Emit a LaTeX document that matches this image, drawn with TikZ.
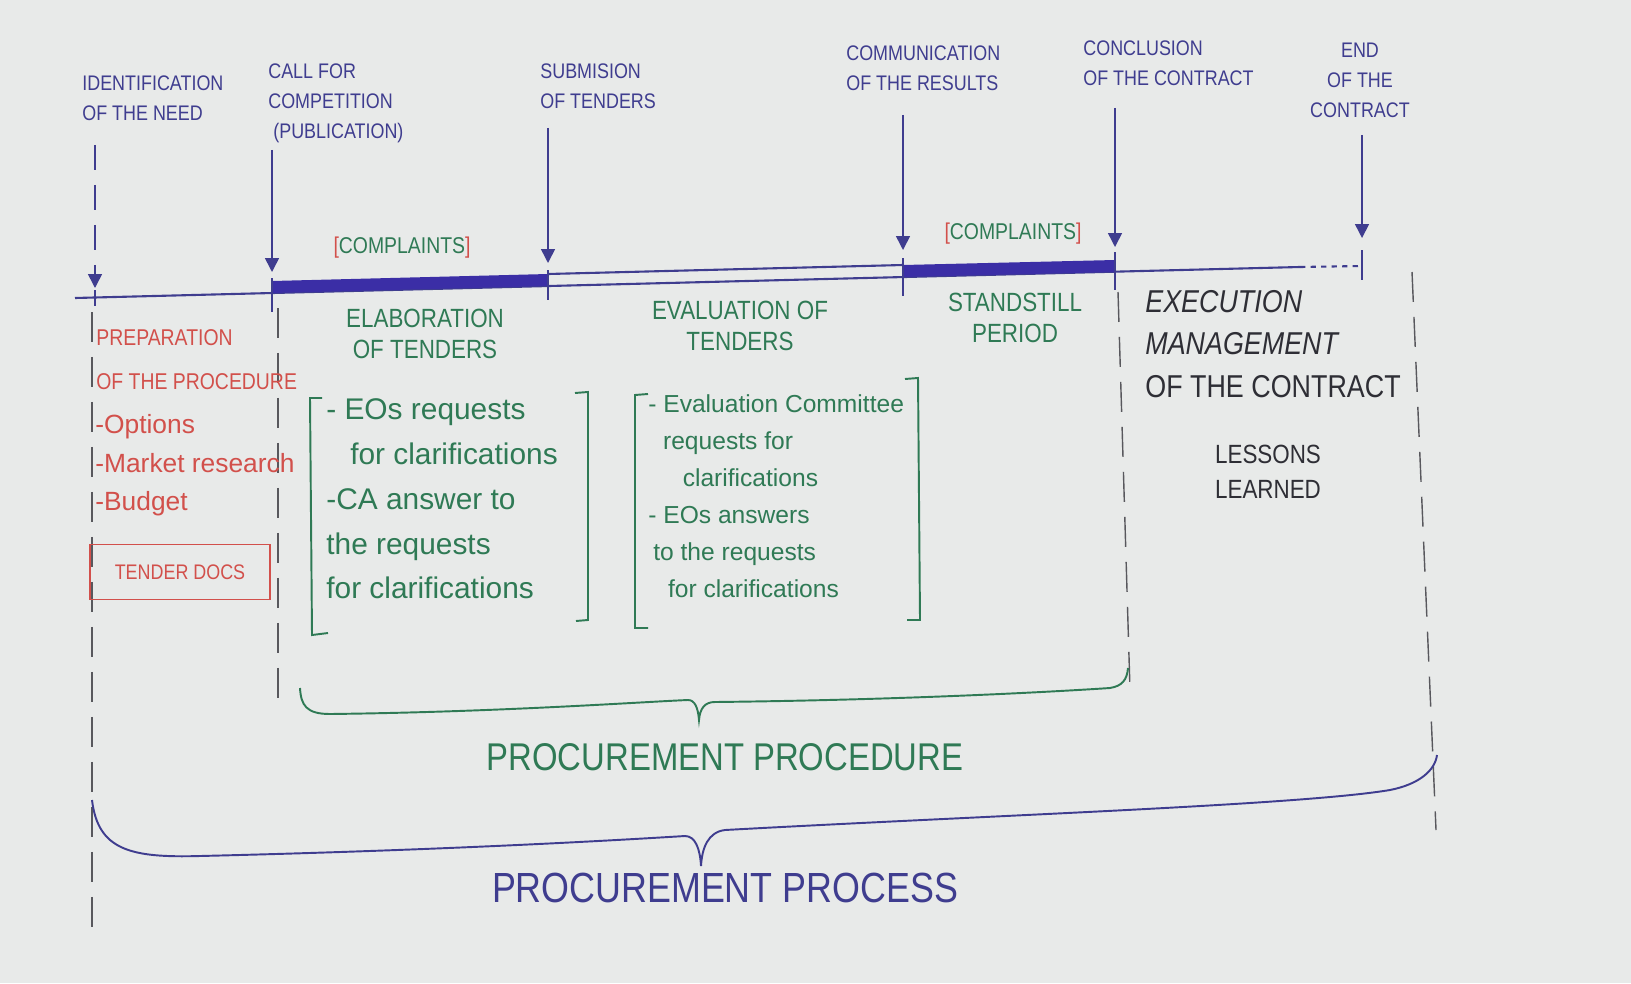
\documentclass[tikz,border=0pt]{standalone}
\usepackage{fontspec}
\setmainfont{Liberation Sans}
\newfontfamily\penfont{Liberation Sans}[FakeStretch=0.85]
\usetikzlibrary{arrows.meta}

\definecolor{board}{HTML}{E8EAE9}
\definecolor{bluepen}{HTML}{3F3D8F}
\definecolor{barblue}{HTML}{3B2EA6}
\definecolor{redpen}{HTML}{D2504B}
\definecolor{greenpen}{HTML}{2F7A55}
\definecolor{blackpen}{HTML}{2E2E35}

\tikzset{
  lbl/.style={text=bluepen,font=\penfont\fontsize{12}{17}\selectfont,align=left,inner sep=0pt},
  pointer/.style={draw=bluepen,line width=0.9pt,-{Triangle[width=0.28cm,length=0.28cm]}},
  tick/.style={draw=bluepen,line width=1.2pt},
  bar/.style={draw=bluepen,line width=1.2pt},
  guide/.style={draw=blackpen!80,line width=0.8pt,dash pattern=on 0.6cm off 0.3cm},
  redtxt/.style={text=redpen,align=left,inner sep=0pt},
  redbox/.style={draw=redpen,line width=1pt,text=redpen,font=\penfont\fontsize{12}{14}\selectfont,minimum width=3.6cm,minimum height=1.1cm},
  grnhead/.style={text=greenpen,font=\penfont\fontsize{15}{18}\selectfont,align=center,inner sep=0pt},
  grnlist/.style={text=greenpen,align=left,inner sep=0pt},
  grnbracket/.style={draw=greenpen,line width=1.1pt},
  complaint/.style={text=greenpen,font=\penfont\fontsize{13}{15}\selectfont,inner sep=0pt},
  blk/.style={text=blackpen,font=\penfont\fontsize{18}{24}\selectfont,align=left,inner sep=0pt},
  brace/.style={line width=1.1pt}
}

\begin{document}
\begin{tikzpicture}[x=0.02cm,y=-0.02cm]
\fill[board] (0,0) rectangle (1631,983);
\useasboundingbox (0,0) rectangle (1631,983);

% points of the time line
\coordinate (start) at (75,298);
\coordinate (need) at (95,297);
\coordinate (call) at (272,293);
\coordinate (sub) at (548,286);
\coordinate (res) at (903,277);
\coordinate (conc) at (1115,272);
\coordinate (fade) at (1300,267);
\coordinate (fin) at (1362,266);

% time line
\draw[bar] (start) -- (fade);
\draw[bar,dashed] (fade) -- (fin);
\fill[barblue] (call) -- (sub) -- ([yshift=0.24cm]sub) -- ([yshift=0.24cm]call) -- cycle;
\draw[bar] ([yshift=0.24cm]sub) -- ([yshift=0.24cm]res);
\fill[barblue] (res) -- (conc) -- ([yshift=0.24cm]conc) -- ([yshift=0.24cm]res) -- cycle;
\foreach \p/\a/\b in {need/0.14cm/0.18cm, call/0.3cm/0.38cm, sub/0.32cm/0.28cm,
  res/0.38cm/0.38cm, conc/0.4cm/0.36cm, fin/0.32cm/0.28cm}
  \draw[tick] ([yshift=\a]\p) -- ([yshift=-\b]\p);

% events
\node[lbl,anchor=west] (ident) at (82,98) {IDENTIFICATION\\OF THE NEED};
\node[lbl,anchor=west] (callfor) at (268,103) {CALL FOR\\COMPETITION\\\ (PUBLICATION)};
\node[lbl,anchor=west] (subm) at (540,86) {SUBMISION\\OF TENDERS};
\node[lbl,anchor=west] (comm) at (846,68) {COMMUNICATION\\OF THE RESULTS};
\node[lbl,anchor=west] (concl) at (1083,63) {CONCLUSION\\OF THE CONTRACT};
\node[lbl,align=center] (endc) at (1360,80) {END\\OF THE\\CONTRACT};

\coordinate (needtop) at (95,145);
\coordinate (calltop) at (272,150);
\coordinate (subtop) at (548,128);
\coordinate (restop) at (903,115);
\coordinate (conctop) at (1115,108);
\coordinate (fintop) at (1362,135);
\draw[pointer,dash pattern=on 0.5cm off 0.3cm] (needtop) -- ([yshift=0.18cm]need);
\draw[pointer] (calltop) -- ([yshift=0.42cm]call);
\draw[pointer] (subtop) -- ([yshift=0.46cm]sub);
\draw[pointer] (restop) -- ([yshift=0.54cm]res);
\draw[pointer] (conctop) -- ([yshift=0.5cm]conc);
\draw[pointer] (fintop) -- ([yshift=0.56cm]fin);

\node[complaint] (cmp1) at (402,248) {\textcolor{redpen}{[}COMPLAINTS\textcolor{redpen}{]}};
\node[complaint] (cmp2) at (1013,234) {\textcolor{redpen}{[}COMPLAINTS\textcolor{redpen}{]}};

% phase borders
\draw[guide] (92,312) -- (92,935);
\draw[guide] (278,308) -- (278,700);
\draw[guide] (1118,292) -- (1130,690);
\draw[guide] (1412,272) -- (1436,830);

% preparation
\node[redtxt,anchor=west,font=\penfont\fontsize{13}{25}\selectfont] (prep) at (96,360) {PREPARATION\\OF THE PROCEDURE};
\node[redtxt,anchor=north west,font=\fontsize{15}{22}\selectfont] (opts) at (95,414) {-Options\\-Market research\\-Budget};
\node[redbox] (docs) at (180,572) {TENDER DOCS};

% procedure phases
\node[grnhead] (elab) at (425,334) {ELABORATION\\OF TENDERS};
\node[grnhead] (eval) at (740,326) {EVALUATION OF\\TENDERS};
\node[grnhead] (still) at (1015,318) {STANDSTILL\\PERIOD};

\node[grnlist,anchor=west,font=\fontsize{17}{25.5}\selectfont] (elabl) at (326,499)
  {- EOs requests\\\hspace{0.8em}for clarifications\\-CA answer to\\the requests\\for clarifications};
\draw[grnbracket] (322,398) -- (310,398) -- (312,635) -- (328,633);
\draw[grnbracket] (575,393) -- (588,392) -- (588,620) -- (576,621);

\node[grnlist,anchor=west,font=\fontsize{14}{21}\selectfont] (evall) at (648,496)
  {- Evaluation Committee\\\hspace{0.6em}requests for\\\hspace{1.4em}clarifications\\- EOs answers\\\hspace{0.2em}to the requests\\\hspace{0.8em}for clarifications};
\draw[grnbracket] (648,394) -- (635,395) -- (635,628) -- (648,628);
\draw[grnbracket] (905,379) -- (918,378) -- (920,620) -- (907,620);

% contract
\node[blk,anchor=west] (exec) at (1145,344) {\itshape EXECUTION\\\itshape MANAGEMENT\\OF THE CONTRACT};
\node[blk,align=center,font=\penfont\fontsize{15}{20}\selectfont] (lessons) at (1268,472) {LESSONS\\LEARNED};

% braces
\draw[brace,greenpen] (300,688) .. controls (301,705) and (306,714) .. (330,714)
  .. controls (500,712) and (640,702) .. (688,700) .. controls (695,700) and (698,708) .. (699,720)
  .. controls (700,708) and (705,702) .. (715,702) .. controls (900,700) and (1050,692) .. (1110,688)
  .. controls (1122,686) and (1127,680) .. (1128,668);
\node[grnhead,font=\penfont\fontsize{22}{26}\selectfont] (procedure) at (725,757) {PROCUREMENT PROCEDURE};

\draw[brace,bluepen] (92,800) .. controls (98,850) and (130,858) .. (200,856)
  .. controls (450,850) and (620,840) .. (685,836) .. controls (695,836) and (700,848) .. (701,866)
  .. controls (702,848) and (708,832) .. (725,830) .. controls (1000,815) and (1300,805) .. (1390,790)
  .. controls (1420,784) and (1435,770) .. (1437,755);
\node[lbl,font=\penfont\fontsize{24}{28}\selectfont] (process) at (725,888) {PROCUREMENT PROCESS};
\end{tikzpicture}
\end{document}
